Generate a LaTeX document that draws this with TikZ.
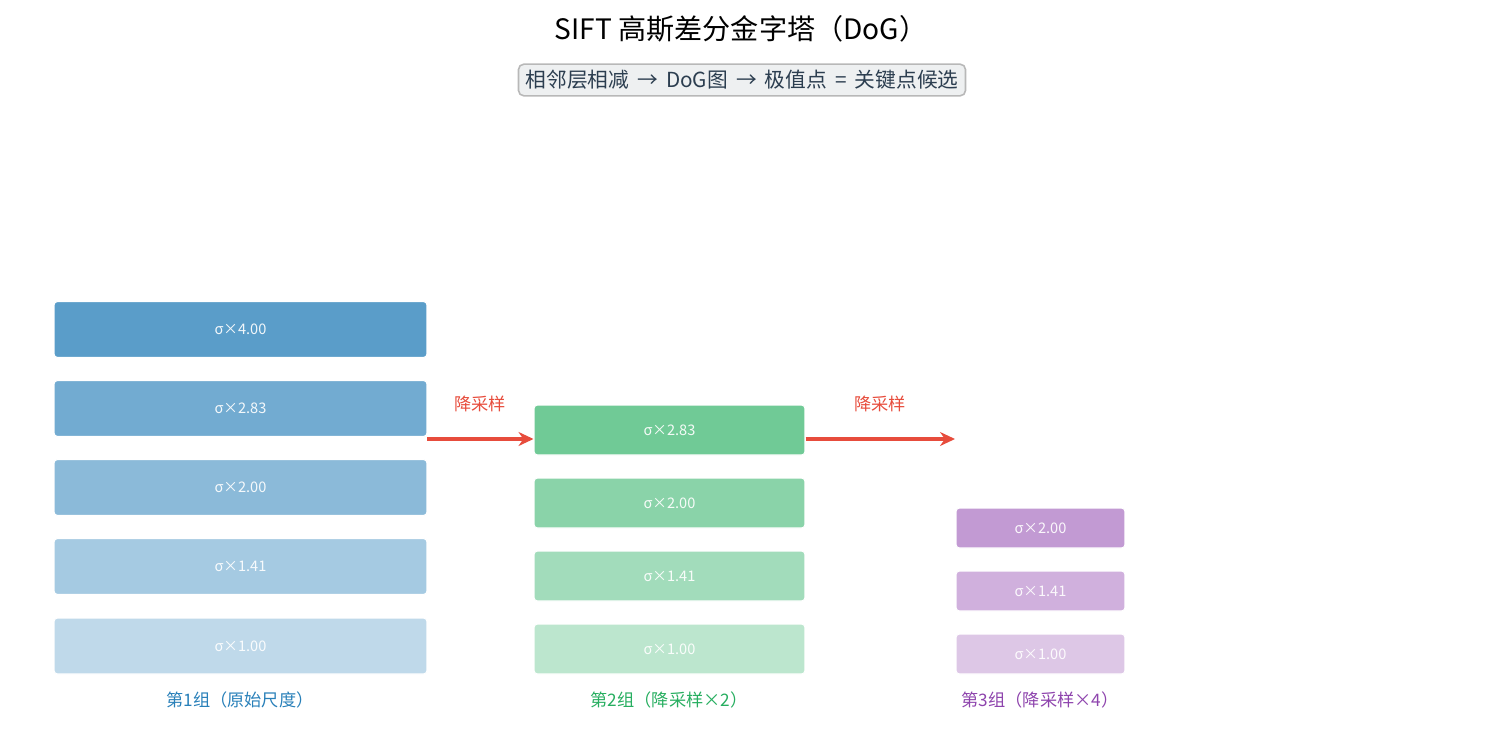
\documentclass[tikz,border=0pt]{standalone}
\usepackage{fontspec}
\setmainfont{Noto Sans CJK SC}
\usetikzlibrary{arrows.meta}

\definecolor{lan}{HTML}{2980B9}
\definecolor{lv}{HTML}{27AE60}
\definecolor{zi}{HTML}{8E44AD}
\definecolor{hong}{HTML}{E74C3C}
\definecolor{shen}{HTML}{2C3E50}

\begin{document}
\begin{tikzpicture}[x=0.02cm, y=-0.02cm,
	ceng/.style={rectangle, rounded corners=2pt, draw=white, line width=0.6pt, inner sep=0pt,
		text=white, text opacity=0.92, font=\fontsize{8.3}{9}\selectfont},
	zubiao/.style={font=\fontsize{9.8}{11}\selectfont},
	jiantou/.style={draw=hong, line width=2.2pt, -{Stealth[length=3mm, width=2.8mm]}},
	jlabel/.style={text=hong, font=\fontsize{9.8}{11}\selectfont}]

\useasboundingbox (0,0) rectangle (1485,734);

% Titulo
\node[font=\fontsize{16}{18}\selectfont] (T) at (741,29) {SIFT 高斯差分金字塔（DoG）};
\node[draw=black!28, line width=0.9pt, fill=shen!8, rounded corners=3pt, text=shen,
	inner xsep=4pt, inner ysep=3.5pt, font=\fontsize{11.8}{13}\selectfont] (S) at (742,80)
	{相邻层相减 \,→\, DoG图 \,→\, 极值点 \,=\, 关键点候选};

% Grupo 1
	\foreach \s/\y/\p [count=\i] in {1.00/646/30, 1.41/566.5/42, 2.00/487.5/54, 2.83/408.5/66, 4.00/329.5/77}
		\node[ceng, fill=lan!\p, minimum width=7.46cm, minimum height=1.12cm] (g1b\i) at (240.5,\y) {σ×\s};
	\node[zubiao, text=lan] (G1) at (240,700) {第1组（原始尺度）};

% Grupo 2
	\foreach \s/\y/\p [count=\i] in {1.00/649/31, 1.41/576/43, 2.00/503/54, 2.83/430/66}
		\node[ceng, fill=lv!\p, minimum width=5.42cm, minimum height=1.0cm] (g2b\i) at (669.5,\y) {σ×\s};
	\node[zubiao, text=lv] (G2) at (669,700) {第2组（降采样×2）};

% Grupo 3
	\foreach \s/\y/\p [count=\i] in {1.00/654/30, 1.41/591/42, 2.00/528/54}
		\node[ceng, fill=zi!\p, minimum width=3.38cm, minimum height=0.8cm] (g3b\i) at (1040.5,\y) {σ×\s};
	\node[zubiao, text=zi] (G3) at (1040,700) {第3组（降采样×4）};

% Flechas
\coordinate (a1) at (g1b4.east |- 0,439);
\coordinate (a2) at (g2b4.west |- 0,439);
\coordinate (a3) at (g2b4.east |- 0,439);
\coordinate (a4) at (955,439);
\draw[jiantou] (a1) -- (a2);
\draw[jiantou] (a3) -- (a4);
\node[jlabel] (L1) at (480,404) {降采样};
\node[jlabel] (L2) at (880,404) {降采样};

\end{tikzpicture}
\end{document}
